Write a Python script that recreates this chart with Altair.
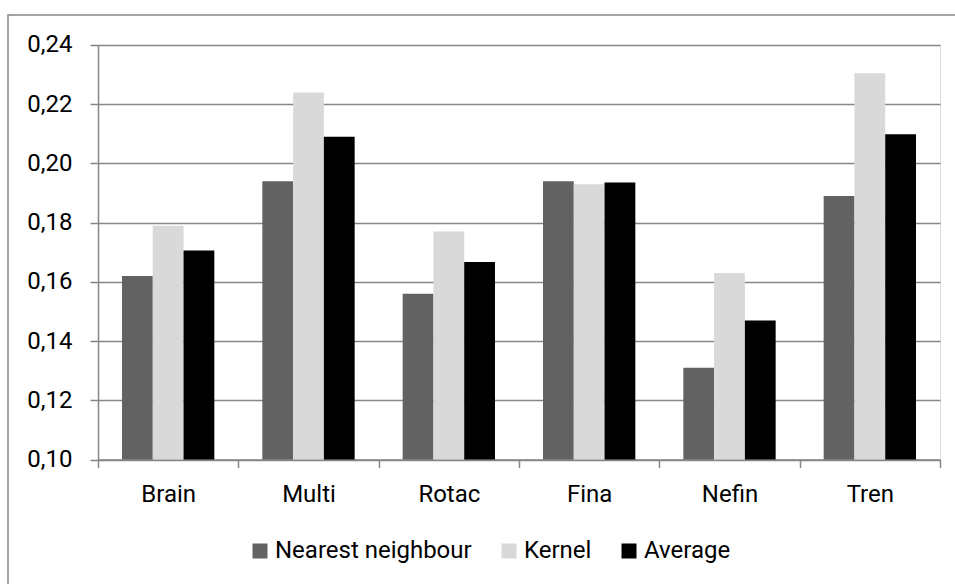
import altair as alt
import pandas as pd

# Error values per dataset for each estimation method
datasets = ["Brain", "Multi", "Rotac", "Fina", "Nefin", "Tren"]
methods = ["Nearest neighbour", "Kernel", "Average"]
nearest = [0.162, 0.194, 0.156, 0.194, 0.131, 0.189]
kernel = [0.179, 0.224, 0.177, 0.193, 0.163, 0.2305]
average = [0.1706, 0.209, 0.1667, 0.1936, 0.147, 0.2099]
y_ticks = [0.10, 0.12, 0.14, 0.16, 0.18, 0.20, 0.22, 0.24]
colors = ["#626262", "#d9d9d9", "#000000"]

rows = []
for series, values in zip(methods, [nearest, kernel, average]):
    for ds, v in zip(datasets, values):
        rows.append({"dataset": ds, "method": series, "value": v})
df = pd.DataFrame(rows)

GRAY = "#868686"
FONT = "Roboto"
FS = 24

bars = alt.Chart(df).mark_bar().encode(
    x=alt.X(
        "dataset:N",
        sort=datasets,
        scale=alt.Scale(paddingInner=0, paddingOuter=0),
        axis=alt.Axis(
            title=None,
            labelAngle=0,
            tickBand="extent",
            grid=False,
            domainColor=GRAY,
            domainWidth=1.5,
            tickColor=GRAY,
            tickWidth=1.5,
            tickSize=8,
            labelPadding=15,
            labelFontSize=FS,
            labelColor="#000000",
            labelFont=FONT,
        ),
    ),
    xOffset=alt.XOffset(
        "method:N",
        sort=methods,
        scale=alt.Scale(paddingInner=0, paddingOuter=0.78),
    ),
    y=alt.Y(
        "value:Q",
        scale=alt.Scale(domain=[0.10, 0.24], zero=False, nice=False),
        axis=alt.Axis(
            title=None,
            values=y_ticks,
            labelExpr="replace(format(datum.value, '.2f'), '.', ',')",
            grid=True,
            gridColor=GRAY,
            gridWidth=1.5,
            domainColor=GRAY,
            domainWidth=1.5,
            tickColor=GRAY,
            tickWidth=1.5,
            tickSize=8,
            labelPadding=18,
            labelFontSize=FS,
            labelColor="#000000",
            labelFont=FONT,
        ),
    ),
    y2=alt.datum(0.10),
    color=alt.Color(
        "method:N",
        sort=methods,
        scale=alt.Scale(domain=methods, range=colors),
        legend=alt.Legend(
            title=None,
            orient="none",
            legendX=150,
            legendY=494,
            direction="horizontal",
            symbolType="square",
            symbolSize=225,
            symbolStrokeWidth=0,
            symbolOpacity=1,
            labelFontSize=FS,
            labelFont=FONT,
            labelColor="#000000",
            labelLimit=400,
            labelOffset=3,
            columnPadding=25,
        ),
    ),
)

# Outer chart frame
frame = alt.Chart(pd.DataFrame({"frame": [0]})).mark_rect(
    fill="transparent", stroke=GRAY, strokeWidth=1.5
).encode(
    x=alt.value(-90),
    x2=alt.value(900),
    y=alt.value(-30),
    y2=alt.value(600),
)

chart = alt.layer(frame, bars).properties(
    width=842,
    height=414.6,
    padding={"left": 98, "top": 45, "right": 15, "bottom": 124},
    autosize=alt.AutoSizeParams(type="none"),
    background="white",
).configure_view(stroke=None).configure(font=FONT)

chart.save("out.html", embed_options={"renderer": "svg", "actions": False})
